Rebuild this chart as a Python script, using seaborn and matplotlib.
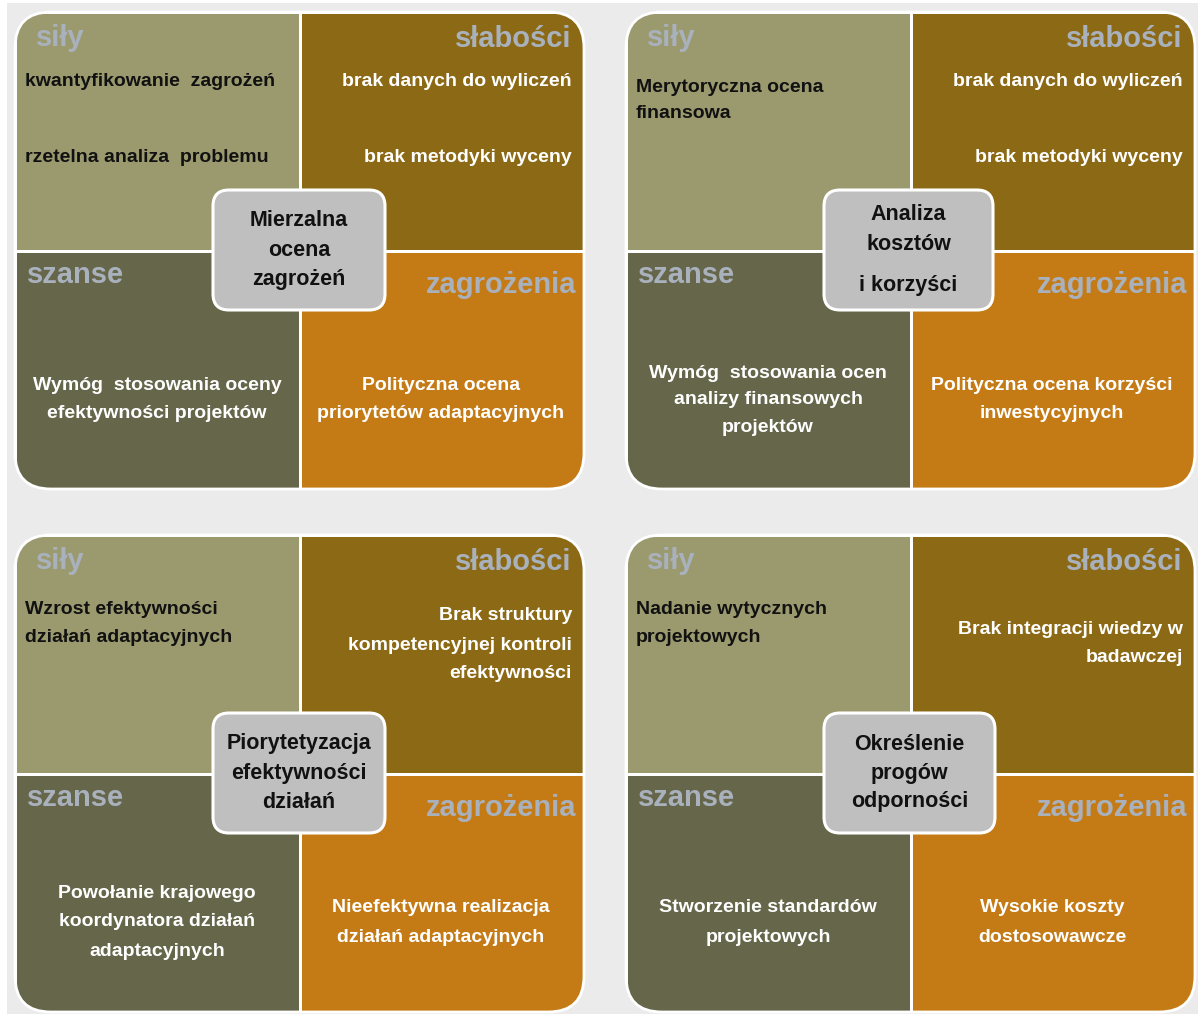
import numpy as np
import matplotlib
matplotlib.use("Agg")
import matplotlib.pyplot as plt
import seaborn as sns
from matplotlib.colors import ListedColormap
from matplotlib.patches import FancyBboxPatch, Rectangle
from matplotlib.transforms import Affine2D

# ---------------- data ----------------
quadrant_names = ["siły", "słabości", "szanse", "zagrożenia"]
quadrant_colors = ["#9b9a6f", "#8c6914", "#66664a", "#c47b16"]
quadrant_codes = [[0, 1], [2, 3]]

center_titles = [
    ["Mierzalna", "ocena", "zagrożeń"],
    ["Analiza", "kosztów", "i korzyści"],
    ["Piorytetyzacja", "efektywności", "działań"],
    ["Określenie", "progów", "odporności"],
]
strengths = [
    ["kwantyfikowanie  zagrożeń", "rzetelna analiza  problemu"],
    ["Merytoryczna ocena", "finansowa"],
    ["Wzrost efektywności", "działań adaptacyjnych"],
    ["Nadanie wytycznych", "projektowych"],
]
weaknesses = [
    ["brak danych do wyliczeń", "brak metodyki wyceny"],
    ["brak danych do wyliczeń", "brak metodyki wyceny"],
    ["Brak struktury", "kompetencyjnej kontroli", "efektywności"],
    ["Brak integracji wiedzy w", "badawczej"],
]
opportunities = [
    ["Wymóg  stosowania oceny", "efektywności projektów"],
    ["Wymóg  stosowania ocen", "analizy finansowych", "projektów"],
    ["Powołanie krajowego", "koordynatora działań", "adaptacyjnych"],
    ["Stworzenie standardów", "projektowych"],
]
threats = [
    ["Polityczna ocena", "priorytetów adaptacyjnych"],
    ["Polityczna ocena korzyści", "inwestycyjnych"],
    ["Nieefektywna realizacja", "działań adaptacyjnych"],
    ["Wysokie koszty", "dostosowawcze"],
]

# ---------------- layout (pixels) ----------------
W, H = 1198, 1014
PW, PH = 569, 477
panel_origins = [(15, 12), (626, 12), (15, 535), (626, 535)]
center_boxes = [(198, 178, 172, 120), (198, 178, 169, 120),
                (198, 178, 172, 120), (198, 178, 171, 120)]
center_line_y = [[209, 238, 268], [203, 233, 273], [209, 238, 267], [209, 238, 267]]
tl_y = [[70, 145], [75, 102], [74, 103], [74, 103]]
tr_y = [[70, 145], [70, 145], [80, 110, 139], [95, 123]]
bl_y = [[374, 401], [361, 388, 416], [358, 387, 417], [373, 402]]
br_y = [[374, 401], [374, 401], [373, 402], [373, 402]]

sns.set_theme(style="white")
plt.rcParams["font.family"] = ["Liberation Sans", "DejaVu Sans"]
BODY_FONT = ["Liberation Sans", "DejaVu Sans"]
LABEL_FONT = ["Liberation Sans", "DejaVu Sans"]
LABEL_COLOR = "#a9b1bd"

fig = plt.figure(figsize=(W / 100, H / 100), dpi=100, facecolor="white")
tr_px = Affine2D().scale(1, -1).translate(0, H).scale(1 / W, 1 / H) + fig.transFigure
fig.add_artist(Rectangle((7, 3), W - 7, H - 3, transform=tr_px,
                         facecolor="#ebebeb", edgecolor="none", zorder=0))

cmap = ListedColormap(quadrant_colors)
codes = np.array(quadrant_codes)

for i, (x0, y0) in enumerate(panel_origins):
    ax = fig.add_axes([x0 / W, 1 - (y0 + PH) / H, PW / W, PH / H])
    sns.heatmap(codes, cmap=cmap, vmin=-0.5, vmax=3.5, cbar=False,
                linewidths=1.8, linecolor="white",
                xticklabels=False, yticklabels=False, ax=ax)
    ax.patch.set_visible(False)
    ax.set_xlim(0, 2)
    ax.set_ylim(2, 0)
    mesh = ax.collections[0]
    clip = FancyBboxPatch((x0, y0), PW, PH,
                          boxstyle="round,pad=0,rounding_size=36",
                          transform=tr_px)
    mesh.set_clip_path(clip)
    outline = FancyBboxPatch((x0, y0), PW, PH,
                             boxstyle="round,pad=0,rounding_size=36",
                             transform=tr_px, facecolor="none",
                             edgecolor="white", linewidth=2.0, clip_on=False,
                             zorder=3)
    ax.add_artist(outline)

    # center box
    bx, by, bw, bh = center_boxes[i]
    box = FancyBboxPatch((x0 + bx, y0 + by), bw, bh,
                         boxstyle="round,pad=0,rounding_size=16",
                         transform=tr_px, facecolor="#bfbfbf",
                         edgecolor="white", linewidth=2.2, clip_on=False,
                         zorder=4)
    ax.add_artist(box)
    for line, ly in zip(center_titles[i], center_line_y[i]):
        ax.text(x0 + bx + bw / 2, y0 + ly, line, transform=tr_px,
                ha="center", va="center", fontsize=15.5, fontweight="bold",
                family=BODY_FONT, color="#111111", zorder=5)

    # quadrant labels
    lab_kw = dict(transform=tr_px, fontsize=21, fontweight="bold",
                  family=LABEL_FONT, color=LABEL_COLOR, va="baseline", zorder=5)
    ax.text(x0 + 21, y0 + 34, quadrant_names[0], ha="left", **lab_kw)
    ax.text(x0 + 556, y0 + 35, quadrant_names[1], ha="right", **lab_kw)
    ax.text(x0 + 12, y0 + 271, quadrant_names[2], ha="left", **lab_kw)
    ax.text(x0 + 561, y0 + 281, quadrant_names[3], ha="right", **lab_kw)

    # quadrant texts
    body_kw = dict(transform=tr_px, fontsize=14, fontweight="bold",
                   family=BODY_FONT, va="center", zorder=5)
    for line, ly in zip(strengths[i], tl_y[i]):
        ax.text(x0 + 10, y0 + ly, line, ha="left", color="#111111", **body_kw)
    for line, ly in zip(weaknesses[i], tr_y[i]):
        ax.text(x0 + 557, y0 + ly, line, ha="right", color="white", **body_kw)
    for line, ly in zip(opportunities[i], bl_y[i]):
        ax.text(x0 + 142, y0 + ly, line, ha="center", color="white", **body_kw)
    for line, ly in zip(threats[i], br_y[i]):
        ax.text(x0 + 426, y0 + ly, line, ha="center", color="white", **body_kw)

fig.savefig("out.png", dpi=100, facecolor=fig.get_facecolor())
